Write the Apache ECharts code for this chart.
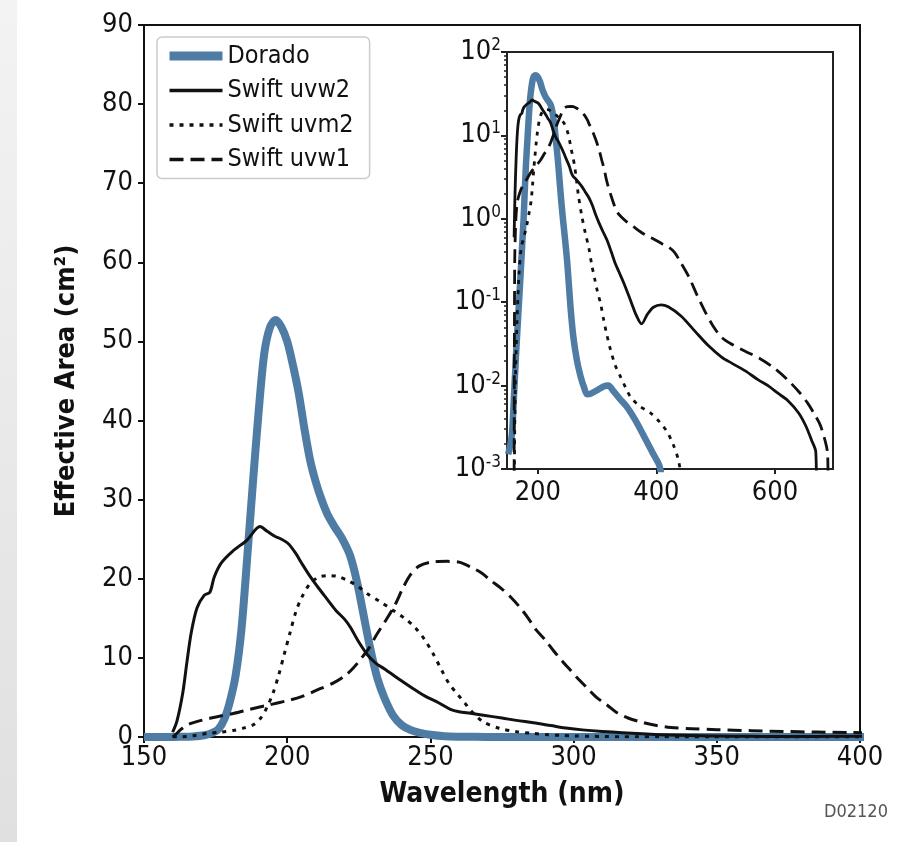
<!DOCTYPE html>
<html>
<head>
<meta charset="utf-8">
<script src="https://cdn.jsdelivr.net/npm/echarts@6/dist/echarts.min.js"></script>
<style>
html,body{margin:0;padding:0;background:#fff;}
#chart{width:903px;height:842px;}
</style>
</head>
<body>
<div id="chart"></div>
<script>
// ---- Data (wavelength in nm, effective area in cm^2) ----
const doradoWl   = [150,156,160,163,167,171,174,176,178,180,182,184,186,188,190,192,194,196,198,200,202,204,206,208,210,212,214,216.5,219,222,224.5,227,229,231.5,234,237,240,243,246,250,255,260,266,272,278,283,289,300,310,319,327,338,350,365,380,395,405,410];
const doradoArea = [0.0015,0.0025,0.008,0.022,0.07,0.22,0.55,1.0,2.2,4.5,7.8,13.5,22.5,32,41,48.5,51.8,52.7,51.8,50,47,43.5,39,35,32.2,30,28.2,26.6,25.2,22.9,19.4,14.8,11.2,7.4,4.9,2.7,1.5,0.9,0.56,0.28,0.09,0.038,0.02,0.013,0.0095,0.0079,0.008,0.0088,0.0097,0.01,0.0087,0.007,0.0056,0.0038,0.0024,0.0015,0.0011,0.0007];

const uvw2Wl   = [160,161.5,163.5,165,166.5,168.5,171,173,174.5,177,181,186,190.5,193,195.5,198,200.5,203,205,208,211,214,217,220,222,225,228,231,234,239.5,244,248,253,257,260,264,268.5,275,280,286,292,298,303,310,317,324,330,337,345,356,366,375,385,395,408,420,442,465,488,510,527,550,572,590,605,622,640,652,662,669,670.5];
const uvw2Area = [0.6,2.0,5.5,9.5,13.2,16.3,17.9,18.3,20.2,22,23.5,24.9,26.6,26,25.4,25,24.4,23.2,22,20.3,18.8,17.4,16,14.9,13.9,12,10.4,9.3,8.6,7.2,6.1,5.2,4.3,3.5,3.2,3.0,2.75,2.4,2.1,1.8,1.45,1.1,0.9,0.7,0.55,0.4,0.3,0.23,0.17,0.107,0.07,0.055,0.072,0.087,0.093,0.088,0.068,0.045,0.03,0.022,0.0186,0.015,0.0117,0.0098,0.0081,0.0066,0.0047,0.0033,0.0022,0.0016,0.0003];

const uvm2Wl   = [160,162,165,168,172,177,181.5,185,188.5,191,193,195,197,199,201,203,205,208,211,214,217.5,221,224.5,228,232.5,237,241,244.5,248,251,254,256.5,259.5,262,264.5,268.5,274,280,286,291,296,300,306,311,316,322,330,339,348,356,370,390,405,418,428,437,442];
const uvm2Area = [0.0005,0.01,0.06,0.2,0.45,0.62,0.85,1.15,1.6,2.5,3.8,5.5,7.8,10.5,13.2,15.8,17.6,19.4,20.2,20.4,20.3,19.8,19.1,18.1,17.1,16,15,13.9,12.3,10.5,8.4,6.75,5.4,4.3,3.2,1.9,1.1,0.68,0.45,0.28,0.19,0.14,0.095,0.062,0.042,0.028,0.018,0.013,0.0095,0.0074,0.0058,0.0047,0.0037,0.0028,0.002,0.0013,0.0008];

const uvw1Wl   = [160,161,163,165.5,170,176,181.5,187,193,199,205,211.5,216,220,223,226,228.5,231,234,237.5,240.5,243,246,250,256,260,264,268,271,275,278,281,284,287,290,293,296,299,302,305,308,311.5,315,319,324,329,334,341,350,362,373,385,396,410,420,430,441,455,469,483,497,510,525,549,575,600,620,640,655,667,677,686,689,690];
const uvw1Area = [0.0005,0.3,1.0,1.6,2.1,2.6,3.0,3.5,4.0,4.5,5.1,6.1,6.8,7.7,8.7,10,11.2,12.8,14.5,16.6,18.9,20.5,21.6,22.1,22.2,22.1,21.5,20.7,19.8,18.7,17.7,16.5,15.1,13.5,12.3,10.9,9.6,8.4,7.2,6.1,5.0,4.1,3.1,2.4,1.85,1.45,1.2,1.05,0.92,0.8,0.7,0.62,0.57,0.5,0.46,0.4,0.3,0.2,0.12,0.075,0.05,0.038,0.032,0.026,0.021,0.016,0.012,0.0085,0.0062,0.0045,0.0033,0.002,0.0015,0.0003];

const seriesNames = ['Dorado','Swift uvw2','Swift uvm2','Swift uvw1'];
const insetXTicks = [200,400,600];
const insetYTicks = [0.001,0.01,0.1,1,10,100];

// ---- Build ----
const FONT = "'Liberation Sans Narrow','DejaVu Sans Condensed','Liberation Sans',sans-serif";
const pairs = (w,a) => w.map((x,i)=>[x,a[i]]);
const minorTicks = [];
for (let e=-3;e<2;e++) for (let k=2;k<=9;k++) minorTicks.push(+(k*Math.pow(10,e)).toPrecision(3));

const sets = [
  {name:seriesNames[0], data:pairs(doradoWl,doradoArea), color:'#4f7ca4', wMain:8, wInset:6.5, wLeg:9, type:'solid'},
  {name:seriesNames[1], data:pairs(uvw2Wl,uvw2Area),     color:'#111',    wMain:3, wInset:2.8, wLeg:3.5, type:'solid'},
  {name:seriesNames[2], data:pairs(uvm2Wl,uvm2Area),     color:'#111',    wMain:3, wInset:2.8, wLeg:3.5, type:[4,6]},
  {name:seriesNames[3], data:pairs(uvw1Wl,uvw1Area),     color:'#111',    wMain:3, wInset:2.8, wLeg:3.5, type:[14,7]}
];

const series = [];
sets.forEach(s=>{
  series.push({type:'line', name:s.name, xAxisIndex:0, yAxisIndex:0, data:s.data, symbol:'none',
    smooth:0.3, clip:true, color:s.color, z:3,
    lineStyle:{color:s.color, width:s.wMain, type:s.type, cap:'butt', join:'round'}});
});
sets.forEach(s=>{
  series.push({type:'line', name:s.name, xAxisIndex:1, yAxisIndex:1, data:s.data, symbol:'none',
    smooth:0.3, clip:true, color:s.color, z:6,
    lineStyle:{color:s.color, width:s.wInset, type:s.type, cap:'butt', join:'round'}});
});

const chart = echarts.init(document.getElementById('chart'), null, {renderer:'canvas'});
chart.setOption({
  animation:false,
  backgroundColor:'transparent',
  textStyle:{fontFamily:FONT},
  graphic:[
    {type:'rect', shape:{x:0,y:0,width:17,height:842}, z:-10,
     style:{fill:{type:'linear',x:0,y:0,x2:1,y2:1,colorStops:[{offset:0,color:'#f3f3f3'},{offset:1,color:'#e0e0e0'}]}}},
    {type:'text', left:824, top:803, style:{text:'D02120', fill:'#555', font:"18px "+FONT}}
  ],
  legend:{
    data:sets.map(s=>({name:s.name, lineStyle:{width:s.wLeg, color:s.color, type:s.type}})),
    orient:'vertical', left:157, top:37,
    itemWidth:53, itemHeight:14, itemGap:4.5, itemTextGap:9,
    padding:[4,16,4,8], borderColor:'#cccccc', borderWidth:1.5, borderRadius:5,
    backgroundColor:'#fff',
    itemStyle:{opacity:0},
    textStyle:{fontSize:25, color:'#111', fontFamily:FONT, lineHeight:30}
  },
  grid:[
    {left:144, top:25, width:716, height:712, show:true, borderColor:'#111', borderWidth:2, backgroundColor:'transparent'},
    {left:507, top:52, width:326, height:417, show:true, borderColor:'#222', borderWidth:2, backgroundColor:'transparent'}
  ],
  xAxis:[
    {type:'value', gridIndex:0, min:150, max:400, interval:50,
     name:'Wavelength (nm)', nameLocation:'middle', nameGap:44,
     nameTextStyle:{fontSize:28, fontWeight:'bold', color:'#111', fontFamily:FONT},
     axisLine:{lineStyle:{color:'#111', width:2}},
     axisTick:{length:6, lineStyle:{color:'#111', width:2}},
     axisLabel:{fontSize:27, color:'#111', margin:7, fontFamily:FONT},
     splitLine:{show:false}},
    {type:'value', gridIndex:1, min:148, max:698,
     axisLine:{onZero:false, lineStyle:{color:'#222', width:2}},
     axisTick:{length:5, customValues:insetXTicks, lineStyle:{color:'#222', width:2}},
     axisLabel:{fontSize:27, color:'#111', margin:10, customValues:insetXTicks, fontFamily:FONT},
     splitLine:{show:false}}
  ],
  yAxis:[
    {type:'value', gridIndex:0, min:0, max:90, interval:10,
     name:'Effective Area (cm²)', nameLocation:'middle', nameGap:64,
     nameTextStyle:{fontSize:27, fontWeight:'bold', color:'#111', fontFamily:FONT},
     axisLine:{lineStyle:{color:'#111', width:2}},
     axisTick:{length:6, lineStyle:{color:'#111', width:2}},
     axisLabel:{fontSize:27, color:'#111', margin:11, fontFamily:FONT},
     splitLine:{show:false}},
    {type:'log', gridIndex:1, logBase:10, min:0.001, max:100,
     axisLine:{onZero:false, lineStyle:{color:'#222', width:2}},
     axisTick:{length:6, customValues:insetYTicks, lineStyle:{color:'#222', width:2}},
     axisLabel:{margin:6, customValues:insetYTicks,
       formatter:function(v){const e=Math.round(Math.log10(v)); return '{b|10}{s|'+e+'}';},
       rich:{b:{fontSize:27, color:'#111', fontFamily:FONT},
             s:{fontSize:17, color:'#111', fontFamily:FONT, padding:[0,0,13,0]}}},
     splitLine:{show:false}},
    {type:'log', gridIndex:1, logBase:10, min:0.001, max:100, position:'left',
     axisLine:{show:false},
     axisTick:{length:3, customValues:minorTicks, lineStyle:{color:'#222', width:1.5}},
     axisLabel:{show:false}, splitLine:{show:false}}
  ],
  series:series
});
</script>
</body>
</html>
